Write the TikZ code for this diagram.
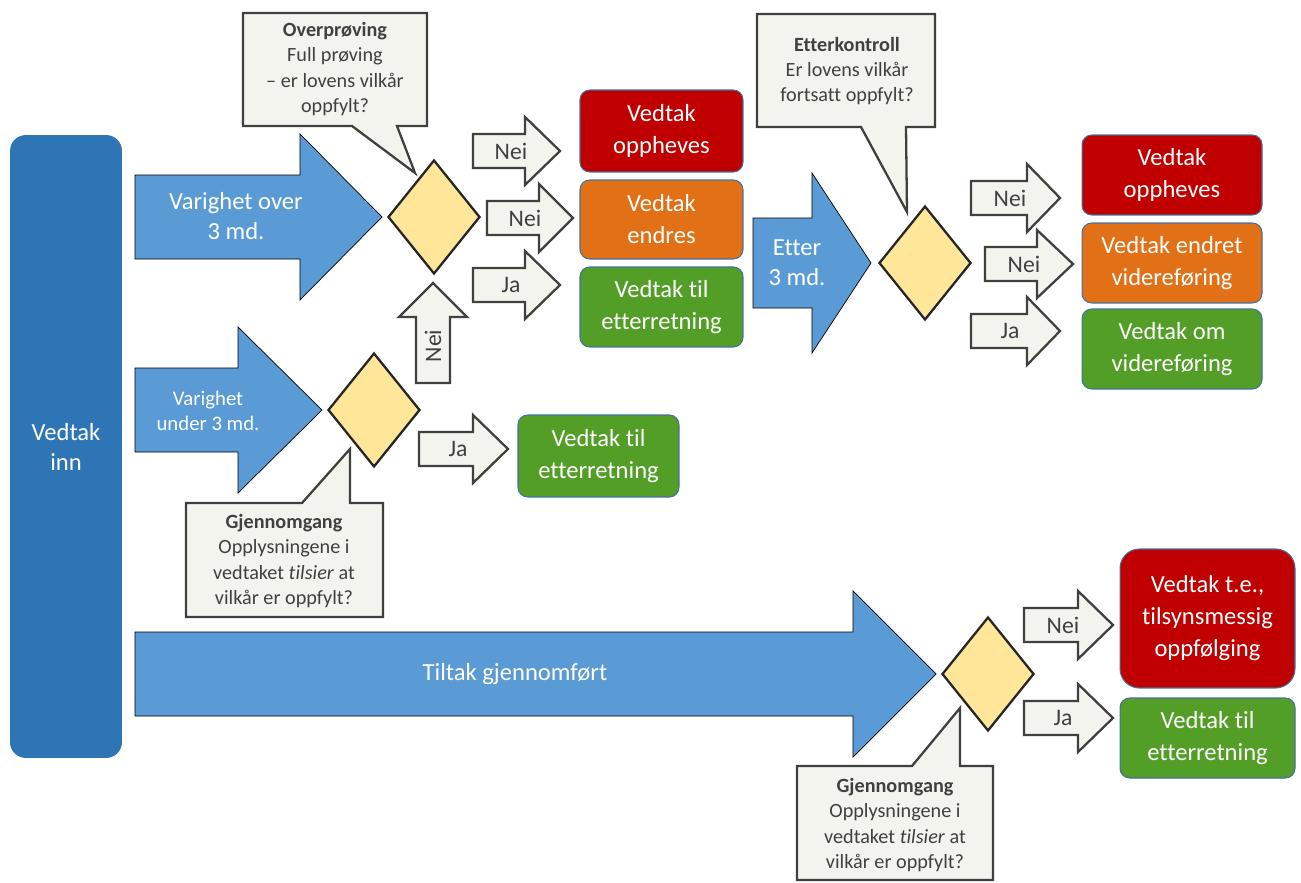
\documentclass[tikz,border=0pt]{standalone}
\usepackage{fontspec}
\setmainfont{Carlito}[Ligatures=NoCommon]
\usetikzlibrary{shapes.geometric}

\definecolor{barblue}{RGB}{46,117,182}
\definecolor{arrblue}{RGB}{91,155,213}
\definecolor{dyellow}{RGB}{255,230,153}
\definecolor{paper}{RGB}{244,244,238}
\definecolor{ink}{RGB}{64,64,64}
\definecolor{vred}{RGB}{192,0,0}
\definecolor{vorange}{RGB}{226,112,22}
\definecolor{vgreen}{RGB}{82,158,38}
\definecolor{rim}{RGB}{65,113,156}

\begin{document}
\begin{tikzpicture}[
  x=0.02cm, y=-0.02cm,
  flow/.style={fill=arrblue},
  flowtxt/.style={text=white, align=center, font=\fontsize{14}{17}\selectfont},
  flowsm/.style={text=white, align=center, font=\fontsize{11.8}{14.2}\selectfont},
  res/.style={draw=rim, line width=0.6pt, rounded corners=5.5pt, text=white,
              align=center, font=\fontsize{14}{18.2}\selectfont,
              minimum width=3.26cm, minimum height=1.6cm, inner sep=0pt},
  dec/.style={diamond, draw=black!85, line width=1.3pt, fill=dyellow,
              minimum width=1.84cm, minimum height=2.28cm, inner sep=0pt},
  note/.style={draw=ink, line width=1.3pt, fill=paper},
  notetxt/.style={text=ink, align=center, font=\fontsize{11.5}{14.4}\selectfont},
  go/.style={draw=ink, line width=1.3pt, fill=paper, line join=miter},
  gotxt/.style={text=ink, font=\fontsize{13.5}{16}\selectfont, inner sep=0pt},
]
  \useasboundingbox (0,0) rectangle (1301,882);

  % incoming decisions
  \node[fill=barblue, rounded corners=9pt, minimum width=2.24cm,
        minimum height=12.46cm, inner sep=0pt] (inn) at (66,446.5) {};
  \node[flowtxt] (inntxt) at (66,447) {Vedtak\\inn};

  % blue flow arrows
  \draw[flow] (135,175) -- (300,175) -- (300,134) -- (382,217) -- (300,300)
    -- (300,259) -- (135,259) -- cycle;
  \node[flowtxt] (over3) at (236,216) {Varighet over\\3 md.};
  \draw[flow] (135,368) -- (238,368) -- (238,327) -- (322,410) -- (238,493)
    -- (238,452) -- (135,452) -- cycle;
  \node[flowsm] (under3) at (208,411) {Varighet\\under 3 md.};
  \draw[flow] (135,632) -- (853,632) -- (853,591) -- (936,674) -- (853,757)
    -- (853,716) -- (135,716) -- cycle;
  \node[flowtxt] (tiltak) at (515,674) {Tiltak gjennomført};
  \draw[flow] (753,218) -- (812,218) -- (812,173) -- (871,263) -- (812,353)
    -- (812,308) -- (753,308) -- cycle;
  \node[flowtxt] (etter) at (797,263) {Etter\\3 md.};

  % decisions
  \node[dec] (d1) at (434,217) {};
  \node[dec] (d2) at (374,410) {};
  \node[dec] (d3) at (925,263) {};
  \node[dec] (d4) at (988,674) {};

  % outcomes
  \node[res, fill=vred, minimum height=1.64cm] (opph1) at (661.5,131) {Vedtak\\oppheves};
  \node[res, fill=vorange, minimum height=1.58cm] (endres) at (661.5,219.5) {Vedtak\\endres};
  \node[res, fill=vgreen] (etterr1) at (661.5,307) {Vedtak til\\etterretning};
  \node[res, fill=vgreen, minimum width=3.22cm, minimum height=1.64cm] (etterr2)
    at (598.5,456) {Vedtak til\\etterretning};
  \node[res, fill=vred, minimum width=3.6cm] (opph2) at (1172,175) {Vedtak\\oppheves};
  \node[res, fill=vorange, minimum width=3.6cm] (endret) at (1172,263)
    {Vedtak endret\\videreføring};
  \node[res, fill=vgreen, minimum width=3.6cm] (videre) at (1172,349)
    {Vedtak om\\videreføring};
  \node[res, fill=vred, minimum width=3.5cm, minimum height=2.78cm,
        rounded corners=11pt] (tilsyn) at (1207.5,618.5)
    {Vedtak t.e.,\\tilsynsmessig\\oppfølging};
  \node[res, fill=vgreen, minimum width=3.5cm] (etterr3) at (1207.5,738)
    {Vedtak til\\etterretning};

  % answer arrows
  \draw[go] (473,134) -- (525,134) -- (525,117) -- (560,151) -- (525,185)
    -- (525,168) -- (473,168) -- cycle;
  \node[gotxt] (nei1) at (511,151) {Nei};
  \draw[go] (487,201) -- (539,201) -- (539,184) -- (573,218) -- (539,252)
    -- (539,235) -- (487,235) -- cycle;
  \node[gotxt] (nei2) at (525,218) {Nei};
  \draw[go] (473,268) -- (525,268) -- (525,251) -- (560,285) -- (525,319)
    -- (525,302) -- (473,302) -- cycle;
  \node[gotxt] (ja1) at (511,285) {Ja};
  \draw[go] (416,383) -- (416,317) -- (399,317) -- (433,283) -- (467,317)
    -- (450,317) -- (450,383) -- cycle;
  \node[gotxt, rotate=90] (nei3) at (433,346) {Nei};
  \draw[go] (419,432) -- (473,432) -- (473,415) -- (508,449) -- (473,483)
    -- (473,466) -- (419,466) -- cycle;
  \node[gotxt] (ja2) at (458,449) {Ja};
  \draw[go] (971,181) -- (1027,181) -- (1027,164) -- (1060,198) -- (1027,232)
    -- (1027,215) -- (971,215) -- cycle;
  \node[gotxt] (nei4) at (1010,198) {Nei};
  \draw[go] (985,247) -- (1037,247) -- (1037,230) -- (1073,264) -- (1037,298)
    -- (1037,281) -- (985,281) -- cycle;
  \node[gotxt] (nei5) at (1024,264) {Nei};
  \draw[go] (971,314) -- (1027,314) -- (1027,297) -- (1060,331) -- (1027,365)
    -- (1027,348) -- (971,348) -- cycle;
  \node[gotxt] (ja3) at (1010,331) {Ja};
  \draw[go] (1024,608) -- (1078,608) -- (1078,591) -- (1113,625) -- (1078,659)
    -- (1078,642) -- (1024,642) -- cycle;
  \node[gotxt] (nei6) at (1063,625) {Nei};
  \draw[go] (1024,701) -- (1078,701) -- (1078,684) -- (1113,718) -- (1078,752)
    -- (1078,735) -- (1024,735) -- cycle;
  \node[gotxt] (ja4) at (1063,718) {Ja};

  % callouts
  \draw[note] (243,13) -- (427,13) -- (427,126) -- (397,126) -- (415,173)
    -- (352,126) -- (243,126) -- cycle;
  \node[notetxt] (overp) at (335,69)
    {\textbf{Overprøving}\\Full prøving\\– er lovens vilkår\\oppfylt?};
  \draw[note] (186,503) -- (302,503) -- (350,449) -- (350,503) -- (383,503)
    -- (383,617) -- (186,617) -- cycle;
  \node[notetxt] (gjen1) at (284,561)
    {\textbf{Gjennomgang}\\Opplysningene i\\vedtaket \textit{tilsier} at\\vilkår er oppfylt?};
  \draw[note] (757,14) -- (935,14) -- (935,127) -- (906,127) -- (907,212)
    -- (861,127) -- (757,127) -- cycle;
  \node[notetxt] (etterk) at (847,71)
    {\textbf{Etterkontroll}\\Er lovens vilkår\\fortsatt oppfylt?};
  \draw[note] (797,766) -- (912,766) -- (960,708) -- (960,766) -- (993,766)
    -- (993,880) -- (797,880) -- cycle;
  \node[notetxt] (gjen2) at (895,825)
    {\textbf{Gjennomgang}\\Opplysningene i\\vedtaket \textit{tilsier} at\\vilkår er oppfylt?};
\end{tikzpicture}
\end{document}
